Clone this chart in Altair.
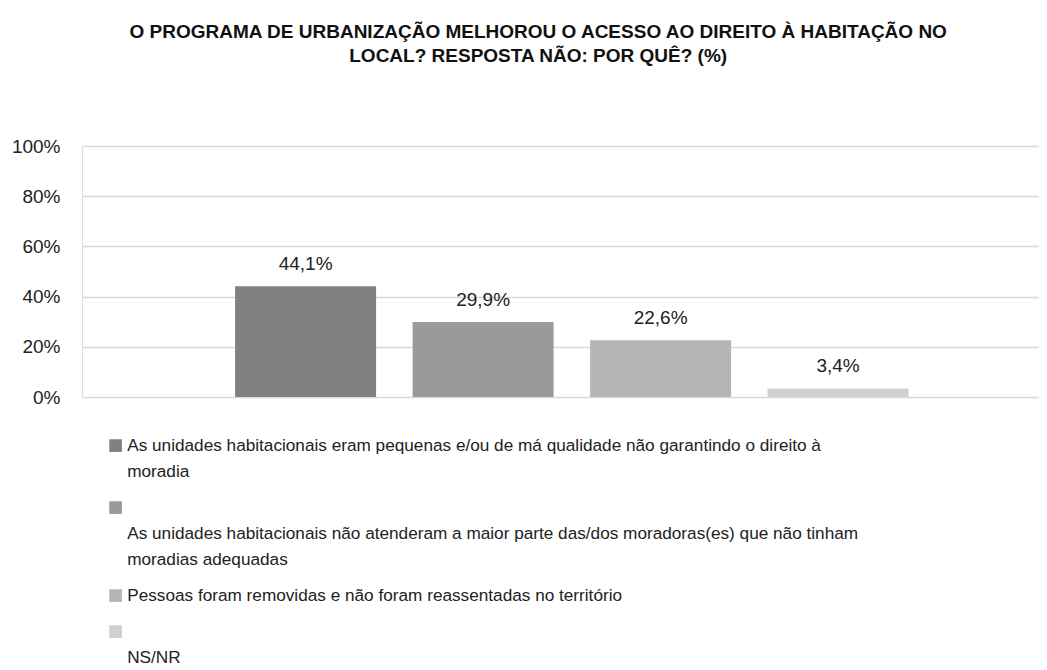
import altair as alt
import pandas as pd

categories = [
    "As unidades habitacionais eram pequenas e/ou de má qualidade não garantindo o direito à moradia",
    "As unidades habitacionais não atenderam a maior parte das/dos moradoras(es) que não tinham moradias adequadas",
    "Pessoas foram removidas e não foram reassentadas no território",
    "NS/NR",
]
values = [44.1, 29.9, 22.6, 3.4]
value_labels = ["44,1%", "29,9%", "22,6%", "3,4%"]
colors = ["#808080", "#9a9a9a", "#b4b4b4", "#d0d0d0"]
y_ticks = [0, 20, 40, 60, 80, 100]

# legend label lines (Excel-like wrapping)
legend_lines = [
    ["As unidades habitacionais eram pequenas e/ou de má qualidade não garantindo o direito à", "moradia"],
    ["", "As unidades habitacionais não atenderam a maior parte das/dos moradoras(es) que não tinham", "moradias adequadas"],
    ["Pessoas foram removidas e não foram reassentadas no território"],
    ["", "NS/NR"],
]

df = pd.DataFrame({"cat": categories, "val": values, "lab": value_labels})

def js_arr(lines):
    return "[" + ",".join("'" + l.replace("'", "\\'") + "'" for l in lines) + "]"

expr = "datum.label"
for c, lines in reversed(list(zip(categories, legend_lines))):
    expr = f"datum.label == '{c}' ? {js_arr(lines)} : ({expr})"

FONT = "Liberation Sans, Arial, sans-serif"

x = alt.X("cat:N", sort=categories, axis=None,
          scale=alt.Scale(paddingInner=0.2056, paddingOuter=0.7986, align=0.54))
y = alt.Y("val:Q", scale=alt.Scale(domain=[0, 100]),
          axis=alt.Axis(values=y_ticks, title=None, labelExpr="datum.value + '%'",
                        domain=False, ticks=False, gridColor="#d9d9d9", gridWidth=1.5,
                        labelFont=FONT, labelFontSize=19, labelColor="#222222",
                        labelPadding=22))

bars = alt.Chart(df).mark_bar().encode(
    x=x, y=y,
    color=alt.Color("cat:N", sort=categories,
                    scale=alt.Scale(domain=categories, range=colors),
                    legend=alt.Legend(title=None, orient="none", legendX=25, legendY=291,
                                      direction="vertical", symbolType="square",
                                      symbolSize=160, symbolStrokeWidth=0,
                                      labelFont=FONT, labelFontSize=17.2, labelColor="#222222",
                                      labelLimit=2000, labelOffset=3, rowPadding=18,
                                      labelExpr=expr, padding=0)),
)

text = alt.Chart(df).mark_text(baseline="alphabetic", dy=-16, font=FONT, fontSize=19,
                               color="#222222").encode(
    x=x, y=alt.Y("val:Q"), text="lab:N")

chart = alt.layer(bars, text).properties(
    width=957, height=251,
    title=alt.TitleParams(
        ["O PROGRAMA DE URBANIZAÇÃO MELHOROU O ACESSO AO DIREITO À HABITAÇÃO NO",
         "LOCAL? RESPOSTA NÃO: POR QUÊ? (%)"],
        anchor="middle", frame="bounds", font=FONT, fontSize=19, fontWeight="bold",
        color="#111111", offset=71, lineHeight=24, dx=13),
    autosize=alt.AutoSizeParams(type="none"),
    padding={"left": 74, "top": 138, "right": 0, "bottom": 276},
).configure_view(stroke=None).configure(
    style={"guide-label": {"lineHeight": 26}}
)

chart.save("out.html", embed_options={"renderer": "svg", "actions": False})
